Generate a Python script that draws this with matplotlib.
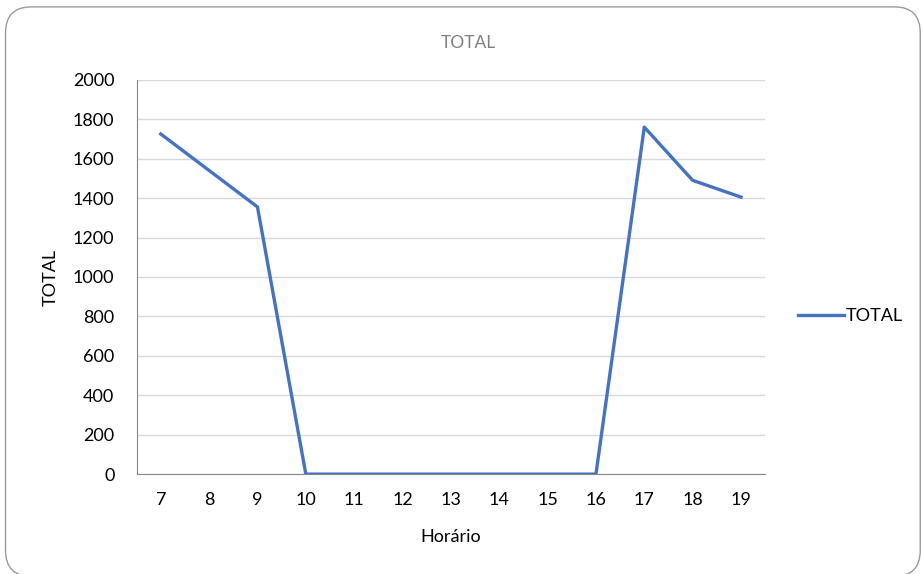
import matplotlib.pyplot as plt
from matplotlib.patches import FancyBboxPatch

horas = ["7", "8", "9", "10", "11", "12", "13", "14", "15", "16", "17", "18", "19"]
total = [1725, 1540, 1355, 0, 0, 0, 0, 0, 0, 0, 1760, 1490, 1405]
yticks = [0, 200, 400, 600, 800, 1000, 1200, 1400, 1600, 1800, 2000]

plt.rcParams['font.family'] = ['Lato', 'DejaVu Sans']

fig = plt.figure(figsize=(9.23, 5.74), dpi=100)
ax = fig.add_axes([0.148, 0.174, 0.681, 0.687])

# rounded chart-area border (slightly cut by the image edges)
border = FancyBboxPatch((0.006, -0.004), 0.991, 0.992,
                        boxstyle="round,pad=0,rounding_size=0.028",
                        transform=fig.transFigure, fill=False,
                        edgecolor="#9a9a9a", linewidth=1.0,
                        mutation_aspect=923 / 574)
fig.patches.append(border)

x = list(range(len(horas)))
ax.plot(x, total, color="#4472c4", linewidth=2.4, label="TOTAL")

ax.set_xlim(-0.5, len(horas) - 0.5)
ax.set_ylim(0, 2000)
ax.set_xticks(x)
ax.set_xticklabels(horas)
ax.set_yticks(yticks)
ax.tick_params(length=0, labelsize=13, colors="#000000")
ax.tick_params(axis="y", pad=16)
ax.tick_params(axis="x", pad=13)
ax.grid(axis="y", color="#d9d9d9", linewidth=1.0)
ax.set_axisbelow(True)

for s in ["top", "right"]:
    ax.spines[s].set_visible(False)
ax.spines["left"].set_color("#868686")
ax.spines["bottom"].set_color("#868686")

ax.set_xlabel("Horário", fontsize=13, labelpad=15)
ax.set_ylabel("TOTAL", fontsize=13, labelpad=10)
fig.text(0.507, 0.925, "TOTAL", ha="center", va="center",
         fontsize=12.5, color="#7f7f7f")

ax.legend(loc="center left", bbox_to_anchor=(1.027, 0.40), frameon=False,
          fontsize=13, handlelength=2.5, handletextpad=0.1)

fig.savefig("out.png", dpi=100)
